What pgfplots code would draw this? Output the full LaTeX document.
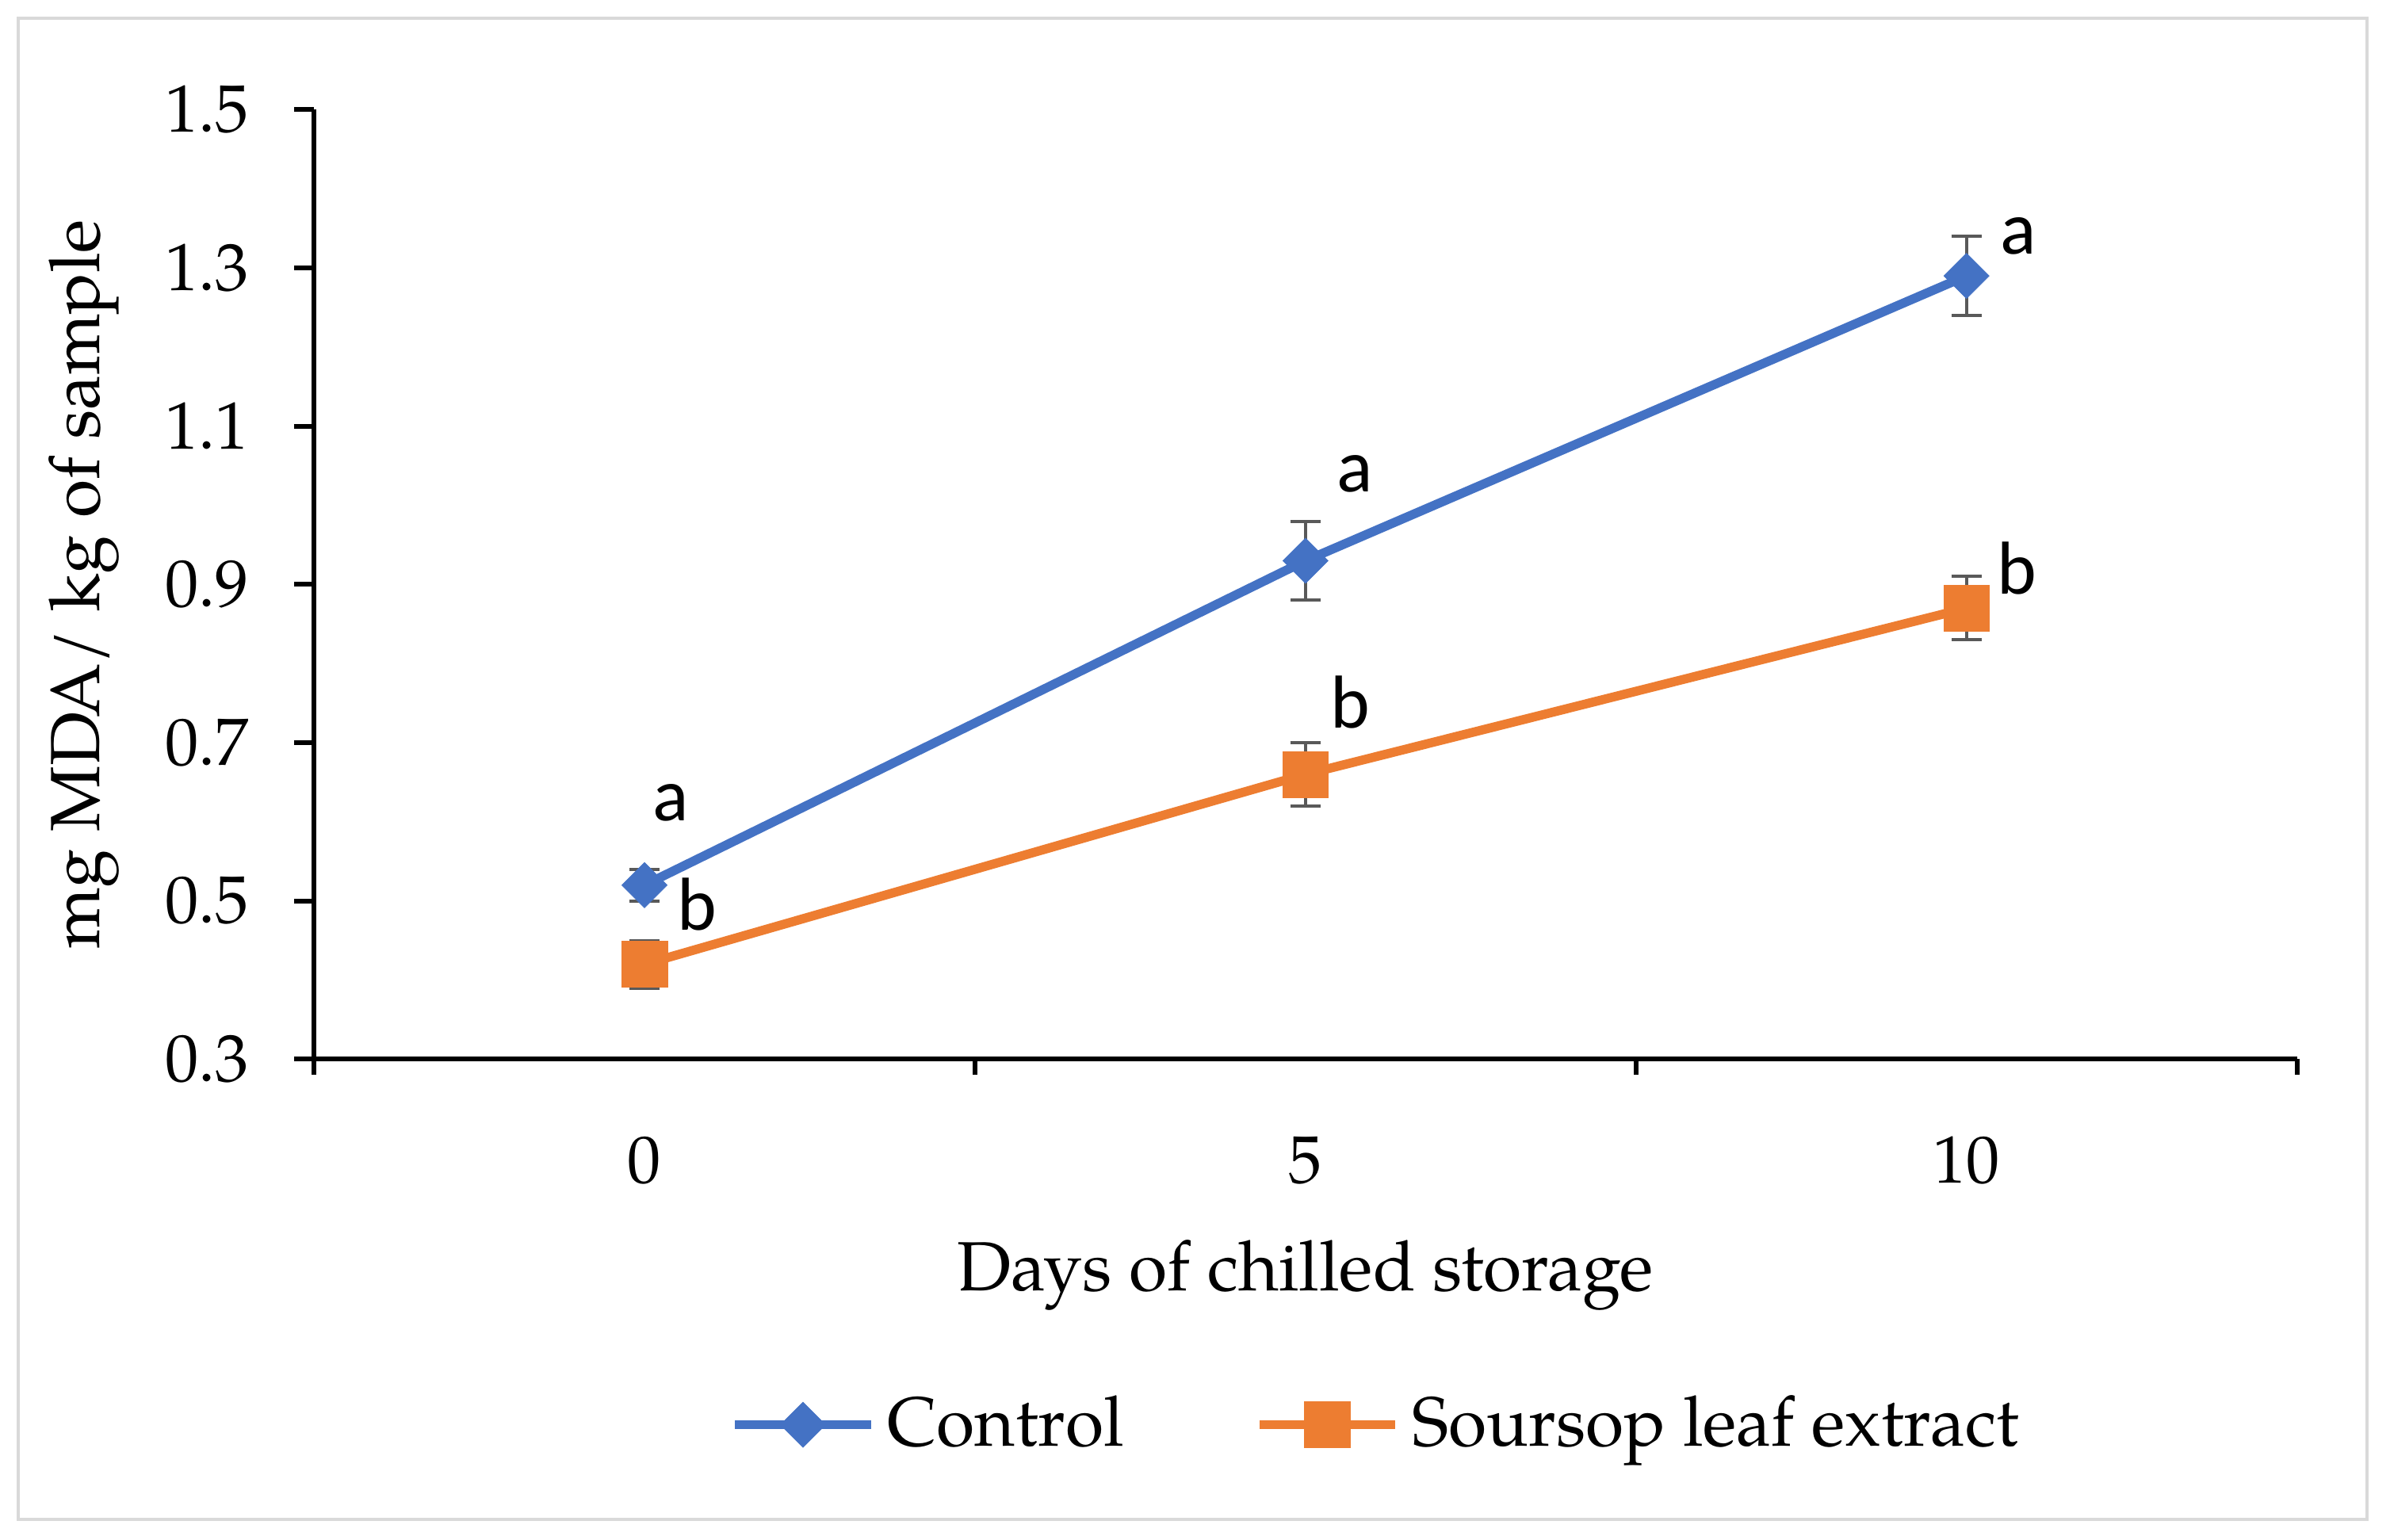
\documentclass[border=0pt]{standalone}
\usepackage{pgfplots}
\pgfplotsset{compat=1.18}
\usepackage{pgfplotstable}
\usepackage{fontspec}
\setmainfont{TeX Gyre Pagella}
\newfontfamily\calib{Carlito}
\definecolor{ctrl}{HTML}{4472C4}
\definecolor{sour}{HTML}{ED7D31}
\definecolor{errg}{HTML}{595959}
\definecolor{brd}{HTML}{D9D9D9}

\pgfplotstableread{
x y e
0 0.52 0.02
1 0.93 0.05
2 1.29 0.05
}\control
\pgfplotstableread{
x y e
0 0.42 0.03
1 0.66 0.04
2 0.87 0.04
}\soursop

\begin{document}
\begin{tikzpicture}
\begin{axis}[
  scale only axis,
  width=13.01cm, height=6.23cm,
  xmin=-0.5, xmax=2.5,
  ymin=0.3, ymax=1.5,
  ytick={0.3,0.5,...,1.5},
  yticklabels={0.3,0.5,0.7,0.9,1.1,1.3,1.5},
  xtick={0,1,2},
  xticklabels={0,5,10},
  minor xtick={-0.5,0.5,1.5,2.5},
  axis x line*=bottom,
  axis y line*=left,
  axis line style={line width=0.9pt, -},
  tick align=outside,
  major tick length=1.3mm,
  minor tick length=1.0mm,
  x tick style={draw=none},
  minor x tick style={draw=black, line width=0.9pt},
  y tick style={line width=0.9pt, black},
  tick label style={font=\fontsize{12.5}{14}\selectfont},
  yticklabel style={anchor=east, inner sep=0pt, xshift=-2.9mm},
  xticklabel style={anchor=north, inner sep=0pt, yshift=-3.7mm},
  xlabel={Days of chilled storage},
  ylabel={mg MDA/ kg of sample},
  label style={font=\fontsize{13}{15}\selectfont},
  xlabel style={at={(axis description cs:0.5,0)}, anchor=base, yshift=-15.2mm, inner sep=0pt},
  ylabel style={at={(axis description cs:0,0.5)}, anchor=center, yshift=15.1mm, inner sep=0pt},
  legend columns=2,
  legend style={at={(axis description cs:0.538,-0.385)}, anchor=center, draw=none,
    font=\fontsize{13}{15}\selectfont,
    /tikz/every even column/.append style={column sep=7.8mm},
    nodes={inner sep=0.8mm}},
  legend image code/.code={\draw[mark repeat=2, mark phase=2, #1] plot coordinates {(0mm,0mm) (4.45mm,0mm) (8.9mm,0mm)};},
  clip=false,
]
\addplot+[color=ctrl, line width=1.7pt, mark=square*, mark size=1.05mm,
  mark options={rotate=45, solid, fill=ctrl, draw=ctrl, line width=0.1pt},
  error bars/.cd, y dir=both, y explicit,
  error bar style={draw=errg, line width=0.6pt},
  error mark options={rotate=90, mark size=1mm, draw=errg, line width=0.6pt}]
  table[x=x, y=y, y error=e] {\control};
\addlegendentry{Control}
\addplot+[color=sour, line width=1.7pt, mark=square*, mark size=1.5mm,
  mark options={solid, fill=sour, draw=sour, line width=0.1pt},
  error bars/.cd, y dir=both, y explicit,
  error bar style={draw=errg, line width=0.6pt},
  error mark options={rotate=90, mark size=1mm, draw=errg, line width=0.6pt}]
  table[x=x, y=y, y error=e] {\soursop};
\addlegendentry{Soursop leaf extract}

\begin{scope}[every node/.style={font=\calib\fontsize{14}{16}\selectfont, inner sep=0pt, anchor=center}]
\node at (axis cs:0.040,0.624) {a};
\node at (axis cs:1.075,1.040) {a};
\node at (axis cs:2.078,1.340) {a};
\node at (axis cs:0.079,0.496) {b};
\node at (axis cs:1.068,0.751) {b};
\node at (axis cs:2.076,0.920) {b};
\end{scope}
\end{axis}
\draw[brd, line width=0.6pt] (-1.94,-3.02) rectangle (13.47,6.83);
\pgfresetboundingbox
\path[use as bounding box] (-2.06,-3.15) rectangle (13.62,6.95);
\end{tikzpicture}
\end{document}
